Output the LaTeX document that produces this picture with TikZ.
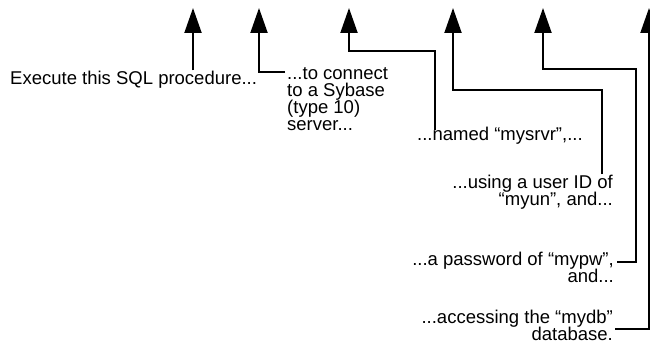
\documentclass[tikz,border=0pt]{standalone}
\usepackage{fontspec}
\setmainfont{Liberation Sans}
\usetikzlibrary{arrows.meta,calc}
\newcommand\lblfont{\fontsize{18.5}{16.7}\selectfont\lineskiplimit=-100pt\relax}
\begin{document}
\begin{tikzpicture}[x=1pt,y=-1pt,
  lbl/.style={inner sep=0pt,font=\lblfont},
  conn/.style={line width=2pt,-{Triangle[length=25pt,width=17pt]}}]
\useasboundingbox (0,0) rectangle (650,361);
% arrow tips
\coordinate (t1) at (193,8);
\coordinate (t2) at (259,8);
\coordinate (t3) at (349,8);
\coordinate (t4) at (453,8);
\coordinate (t5) at (543,8);
\coordinate (t6) at (649,8);
% texts (base anchor = baseline of last line)
\node[lbl,anchor=base west] (exec) at (10,84) {Execute this SQL procedure...};
\node[lbl,anchor=base west,align=left] (cnx) at (287,130) {...to connect\\to a Sybase\\(type 10)\\server...};
\node[lbl,anchor=base west] (named) at (417,140) {...named “mysrvr”,...};
\node[lbl,anchor=base east,align=right] (user) at (613,205) {...using a user ID of\\“myun”, and...};
\node[lbl,anchor=base east,align=right] (pw) at (614,282) {...a password of “mypw”,\\and...};
\node[lbl,anchor=base east,align=right] (db) at (613,340) {...accessing the “mydb”\\database.};
% connector start points
\coordinate (a1) at (exec.north -| t1);
\coordinate (a2) at ($(cnx.base west)+(-2,-58)$);
\coordinate (a3) at ($(named.base west)+(18,-10)$);
\coordinate (b3) at (435,51);
\coordinate (a4) at (602,174);
\coordinate (b4) at (602,90);
\coordinate (a5) at (617,262);
\coordinate (b5) at (636,69);
\coordinate (a6) at (615,329);
% connectors
\draw[conn] (a1) -- (t1);
\draw[conn] (a2) -| (t2);
\draw[conn] (a3) -- (b3) -| (t3);
\draw[conn] (a4) -- (b4) -| (t4);
\draw[conn] (a5) -| (b5) -| (t5);
\draw[conn] (a6) -| (t6);
\end{tikzpicture}
\end{document}
